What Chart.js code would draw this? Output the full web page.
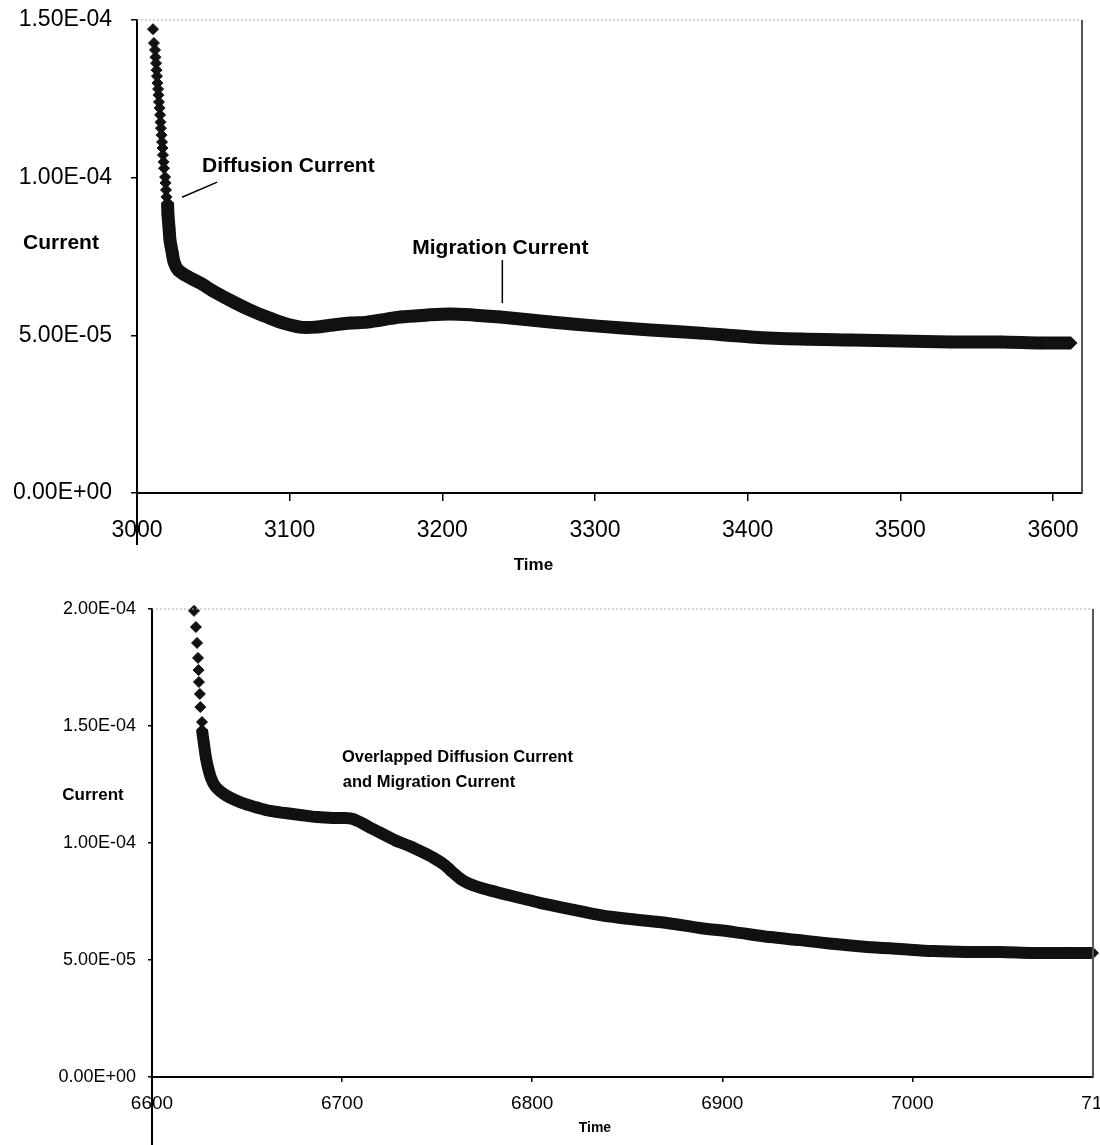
<!DOCTYPE html>
<html lang="en">
<head>
    <meta charset="UTF-8">
    <title>Diffusion and Migration Current</title>
    <script src="https://cdn.jsdelivr.net/npm/chart.js@4.4.1/dist/chart.umd.min.js"></script>
    <style>
        body { margin: 0; background: #fff; }
        .box { width: 1100px; overflow: hidden; }
        canvas { display: block; }
    </style>
</head>
<body>
    <div class="box"><canvas id="topChart" width="1100" height="570"></canvas></div>
    <div class="box"><canvas id="bottomChart" width="1100" height="575"></canvas></div>

    <script>
        // ---- top run (3000 - 3600 s) ----
        var time1Head = [3010.5, 3011.1, 3011.8, 3012.1, 3012.5, 3012.8, 3013.1, 3013.4, 3013.8, 3014.1,
            3014.4, 3014.8, 3015.1, 3015.4, 3015.7, 3016.1, 3016.4, 3016.7, 3017.0, 3017.4,
            3017.7, 3018.4, 3018.7, 3019.0, 3019.3, 3020.0];
        var current1Head = [1.471e-4, 1.427e-4, 1.405e-4, 1.382e-4, 1.363e-4, 1.341e-4, 1.322e-4, 1.300e-4, 1.281e-4, 1.262e-4,
            1.240e-4, 1.221e-4, 1.199e-4, 1.176e-4, 1.157e-4, 1.135e-4, 1.113e-4, 1.094e-4, 1.072e-4, 1.050e-4,
            1.030e-4, 1.002e-4, 9.83e-5, 9.61e-5, 9.39e-5, 9.20e-5];
        var time1Tail = [3020.0, 3020.3, 3021.0, 3021.6, 3023.0, 3024.3, 3026.9, 3031.5, 3036.1, 3041.3,
            3051.1, 3063.0, 3074.1, 3085.2, 3095.7, 3106.9, 3116.7, 3128.5, 3139.7, 3150.8,
            3172.5, 3188.9, 3205.2, 3221.6, 3238.0, 3270.8, 3299.7, 3336.4, 3369.2, 3402.0,
            3434.8, 3467.5, 3500.3, 3533.1, 3565.9, 3592.1, 3611.8];
        var current1Tail = [9.20e-5, 8.81e-5, 8.40e-5, 8.02e-5, 7.64e-5, 7.32e-5, 7.07e-5, 6.91e-5, 6.79e-5, 6.66e-5,
            6.37e-5, 6.06e-5, 5.80e-5, 5.58e-5, 5.39e-5, 5.26e-5, 5.26e-5, 5.33e-5, 5.39e-5, 5.42e-5,
            5.58e-5, 5.64e-5, 5.68e-5, 5.64e-5, 5.58e-5, 5.42e-5, 5.30e-5, 5.17e-5, 5.07e-5, 4.95e-5,
            4.88e-5, 4.85e-5, 4.82e-5, 4.79e-5, 4.79e-5, 4.76e-5, 4.76e-5];
        var xTicks1 = [3000, 3100, 3200, 3300, 3400, 3500, 3600];
        var yTicks1 = [0, 5e-5, 1e-4, 1.5e-4];
        var yTickLabels1 = ['0.00E+00', '5.00E-05', '1.00E-04', '1.50E-04'];

        // ---- bottom run (6600 - 7100 s) ----
        var time2Head = [6622.1, 6623.1, 6623.7, 6624.2, 6624.5, 6624.7, 6625.2, 6625.4, 6626.3];
        var current2Head = [1.992e-4, 1.923e-4, 1.855e-4, 1.791e-4, 1.739e-4, 1.688e-4, 1.637e-4, 1.581e-4, 1.517e-4];
        var time2Tail = [6626.3, 6627.4, 6628.4, 6629.5, 6631.0, 6633.1, 6635.8, 6639.5, 6643.7, 6648.9,
            6655.8, 6662.1, 6670.0, 6677.9, 6686.8, 6695.2, 6701.5, 6705.7, 6710.5, 6715.7,
            6721.5, 6727.8, 6735.7, 6742.0, 6747.8, 6754.1, 6758.3, 6763.1, 6768.3, 6775.2,
            6783.1, 6793.6, 6804.1, 6814.6, 6825.1, 6835.7, 6851.4, 6870.9, 6888.3, 6905.6,
            6925.1, 6940.9, 6959.3, 6976.1, 6993.5, 7010.8, 7028.2, 7046.1, 7063.4, 7080.8, 7095.0];
        var current2Tail = [1.483e-4, 1.419e-4, 1.363e-4, 1.321e-4, 1.278e-4, 1.244e-4, 1.222e-4, 1.201e-4, 1.184e-4, 1.167e-4,
            1.150e-4, 1.137e-4, 1.128e-4, 1.120e-4, 1.111e-4, 1.107e-4, 1.107e-4, 1.103e-4, 1.085e-4, 1.062e-4,
            1.038e-4, 1.012e-4, 9.86e-5, 9.62e-5, 9.38e-5, 9.05e-5, 8.74e-5, 8.42e-5, 8.21e-5, 8.03e-5,
            7.86e-5, 7.65e-5, 7.44e-5, 7.26e-5, 7.09e-5, 6.92e-5, 6.75e-5, 6.58e-5, 6.37e-5, 6.20e-5,
            5.98e-5, 5.85e-5, 5.68e-5, 5.56e-5, 5.47e-5, 5.38e-5, 5.34e-5, 5.34e-5, 5.30e-5, 5.30e-5, 5.30e-5];
        var xTicks2 = [6600, 6700, 6800, 6900, 7000, 7100];
        var yTicks2 = [0, 5e-5, 1e-4, 1.5e-4, 2e-4];
        var yTickLabels2 = ['0.00E+00', '5.00E-05', '1.00E-04', '1.50E-04', '2.00E-04'];

        var FONT = '"Liberation Sans", Arial, sans-serif';

        function pairs(xs, ys) {
            return xs.map(function(x, i) { return { x: x, y: ys[i] }; });
        }

        // frame bits, horizontal axis titles and the hand-drawn callouts
        var notesPlugin = {
            id: 'notes',
            afterDraw: function(chart, args, opts) {
                var ctx = chart.ctx, a = chart.chartArea;
                var xs = chart.scales.x, ys = chart.scales.y;
                ctx.save();
                ctx.strokeStyle = '#aaa';
                ctx.lineWidth = 1;
                ctx.setLineDash([2, 2]);
                ctx.beginPath(); ctx.moveTo(a.left, a.top); ctx.lineTo(a.right, a.top); ctx.stroke();
                ctx.setLineDash([]);
                ctx.strokeStyle = '#555';
                ctx.lineWidth = 2;
                ctx.beginPath(); ctx.moveTo(a.right, a.top); ctx.lineTo(a.right, a.bottom); ctx.stroke();
                // the y axis keeps going below the x axis in the original
                ctx.strokeStyle = '#000';
                ctx.beginPath(); ctx.moveTo(a.left, a.bottom); ctx.lineTo(a.left, a.bottom + opts.axisRun); ctx.stroke();

                ctx.lineWidth = 1.5;
                opts.lines.forEach(function(l) {
                    ctx.beginPath();
                    ctx.moveTo(xs.getPixelForValue(l.x1), ys.getPixelForValue(l.y1));
                    ctx.lineTo(xs.getPixelForValue(l.x2), ys.getPixelForValue(l.y2));
                    ctx.stroke();
                });

                ctx.fillStyle = '#000';
                ctx.textBaseline = 'middle';
                opts.texts.forEach(function(t) {
                    ctx.font = t.font;
                    ctx.textAlign = t.align || 'left';
                    ctx.fillText(t.text, xs.getPixelForValue(t.x) + (t.dx || 0), ys.getPixelForValue(t.y) + (t.dy || 0));
                });
                ctx.restore();
            }
        };

        function makeChart(id, cfg) {
            var ctx = document.getElementById(id).getContext('2d');
            return new Chart(ctx, {
                type: 'scatter',
                data: {
                    datasets: [{
                        data: pairs(cfg.headX, cfg.headY),
                        showLine: false,
                        pointStyle: 'rectRot',
                        pointRadius: cfg.headRadius,
                        backgroundColor: '#111',
                        borderColor: '#111',
                        borderWidth: 1,
                        clip: false
                    }, {
                        data: pairs(cfg.tailX, cfg.tailY),
                        showLine: true,
                        tension: 0.3,
                        borderColor: '#111',
                        borderWidth: cfg.band,
                        pointStyle: 'rectRot',
                        pointRadius: cfg.band / 2,
                        backgroundColor: '#111',
                        pointBorderWidth: 0,
                        clip: false
                    }]
                },
                options: {
                    responsive: false,
                    animation: false,
                    devicePixelRatio: 1,
                    layout: { padding: cfg.padding },
                    plugins: {
                        legend: { display: false },
                        tooltip: { enabled: false },
                        notes: cfg.notes
                    },
                    scales: {
                        x: {
                            type: 'linear',
                            min: cfg.xMin,
                            max: cfg.xMax,
                            afterBuildTicks: function(s) { s.ticks = cfg.xTicks.map(function(v) { return { value: v }; }); },
                            afterFit: function(s) { s.height = cfg.xHeight; s.paddingLeft = 0; s.paddingRight = 0; },
                            grid: { display: true, drawOnChartArea: false, drawTicks: true, tickLength: cfg.xTickLen, color: '#000', lineWidth: 1.5 },
                            border: { display: true, color: '#000', width: 2 },
                            ticks: {
                                autoSkip: false,
                                maxRotation: 0,
                                padding: cfg.xPad,
                                color: '#000',
                                font: { family: FONT, size: cfg.xFont },
                                callback: function(v) { return String(v); }
                            }
                        },
                        y: {
                            type: 'linear',
                            min: 0,
                            max: cfg.yMax,
                            afterBuildTicks: function(s) { s.ticks = cfg.yTicks.map(function(v) { return { value: v }; }); },
                            afterFit: function(s) { s.width = cfg.yWidth; s.paddingTop = 0; s.paddingBottom = 0; },
                            grid: { display: true, drawOnChartArea: false, drawTicks: true, tickLength: cfg.yTickLen, color: '#000', lineWidth: 1.5 },
                            border: { display: true, color: '#000', width: 2 },
                            ticks: {
                                padding: cfg.yPad,
                                color: '#000',
                                font: { family: FONT, size: cfg.yFont },
                                callback: function(v, i) { return cfg.yLabels[i]; }
                            }
                        }
                    }
                },
                plugins: [notesPlugin]
            });
        }

        makeChart('topChart', {
            headX: time1Head, headY: current1Head, tailX: time1Tail, tailY: current1Tail,
            headRadius: 5.5, band: 13,
            xMin: 3000, xMax: 3619, yMax: 1.5e-4,
            xTicks: xTicks1, yTicks: yTicks1, yLabels: yTickLabels1,
            padding: { top: 20, right: 18, bottom: 0, left: 0 },
            xHeight: 77, yWidth: 137,
            xTickLen: 8, xPad: 16, xFont: 23,
            yTickLen: 6, yPad: 19, yFont: 23,
            notes: {
                axisRun: 52,
                lines: [
                    { x1: 3029.5, y1: 9.38e-5, x2: 3052.5, y2: 9.86e-5 },
                    { x1: 3239.3, y1: 7.39e-5, x2: 3239.3, y2: 6.02e-5 }
                ],
                texts: [
                    { text: 'Current', x: 3000, dx: -76, y: 7.93e-5, align: 'center', font: 'bold 21px ' + FONT },
                    { text: 'Time', x: 3259.7, y: 0, dy: 72, align: 'center', font: 'bold 17px ' + FONT },
                    { text: 'Diffusion Current', x: 3042.6, y: 1.037e-4, font: 'bold 21px ' + FONT },
                    { text: 'Migration Current', x: 3180.3, y: 7.77e-5, font: 'bold 21px ' + FONT }
                ]
            }
        });

        makeChart('bottomChart', {
            headX: time2Head, headY: current2Head, tailX: time2Tail, tailY: current2Tail,
            headRadius: 5.5, band: 12,
            xMin: 6600, xMax: 7095, yMax: 2e-4,
            xTicks: xTicks2, yTicks: yTicks2, yLabels: yTickLabels2,
            padding: { top: 39, right: 7, bottom: 0, left: 0 },
            xHeight: 68, yWidth: 152,
            xTickLen: 5, xPad: 10, xFont: 19,
            yTickLen: 4, yPad: 12, yFont: 18,
            notes: {
                axisRun: 70,
                lines: [],
                texts: [
                    { text: 'Current', x: 6600, dx: -59, y: 1.205e-4, align: 'center', font: 'bold 17px ' + FONT },
                    { text: 'Time', x: 6833, y: 0, dy: 51, align: 'center', font: 'bold 14px ' + FONT },
                    { text: 'Overlapped Diffusion Current', x: 6699.9, y: 1.3675e-4, font: 'bold 16.5px ' + FONT },
                    { text: 'and Migration Current', x: 6700.4, y: 1.2607e-4, font: 'bold 16.5px ' + FONT }
                ]
            }
        });
    </script>
</body>
</html>
